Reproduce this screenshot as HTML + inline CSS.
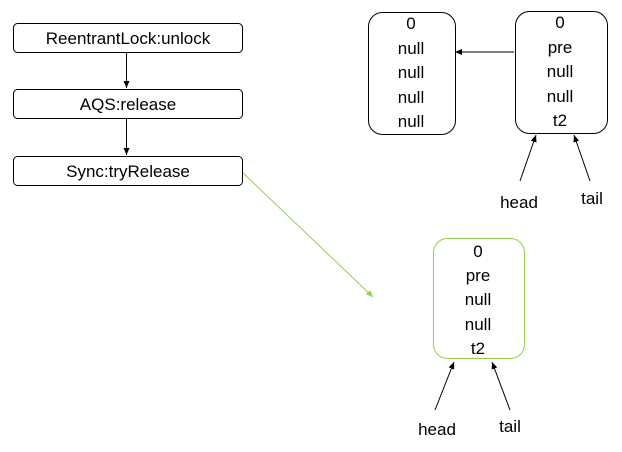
<!DOCTYPE html>
<html><head><style>
body{margin:0;width:622px;height:447px;background:#fff;overflow:hidden}
svg text{font-family:"Liberation Sans",sans-serif;font-size:17px;fill:#000;text-anchor:middle}
</style></head><body>
<svg width="622" height="447" viewBox="0 0 622 447">
<defs>
<marker id="a" markerWidth="8" markerHeight="8" refX="7" refY="4" orient="auto" markerUnits="userSpaceOnUse"><path d="M0,1 L7,4 L0,7 Z" fill="#000"/></marker>
<marker id="g" markerWidth="8" markerHeight="8" refX="7" refY="4" orient="auto" markerUnits="userSpaceOnUse"><path d="M0,1 L7,4 L0,7 Z" fill="#92d050"/></marker>
</defs>
<g fill="none" stroke="#000" stroke-width="1">
<rect x="13.5" y="23.5" width="229" height="29" rx="4"/>
<rect x="13.5" y="89.5" width="229" height="29" rx="4"/>
<rect x="13.5" y="156.5" width="229" height="29" rx="4"/>
<line x1="126.5" y1="53" x2="126.5" y2="88" marker-end="url(#a)"/>
<line x1="126.5" y1="119" x2="126.5" y2="155" marker-end="url(#a)"/>
<rect x="368.5" y="12.5" width="87" height="122" rx="14"/>
<rect x="515.5" y="11.5" width="92" height="122" rx="14"/>
<line x1="514" y1="52" x2="455" y2="52" marker-end="url(#a)"/>
<line x1="520" y1="181" x2="536" y2="135" marker-end="url(#a)"/>
<line x1="590" y1="181" x2="574" y2="135" marker-end="url(#a)"/>
<line x1="435" y1="410" x2="454" y2="362" marker-end="url(#a)"/>
<line x1="510" y1="410" x2="492" y2="362" marker-end="url(#a)"/>
</g>
<rect x="433.5" y="238.5" width="91" height="120" rx="14" fill="none" stroke="#92d050"/>
<line x1="243" y1="173" x2="373" y2="297" stroke="#92d050" marker-end="url(#g)"/>
<text x="128" y="44">ReentrantLock:unlock</text>
<text x="128" y="110">AQS:release</text>
<text x="128" y="177">Sync:tryRelease</text>
<text x="411" y="29">0</text><text x="411" y="54">null</text><text x="411" y="78">null</text><text x="411" y="103">null</text><text x="411" y="127">null</text>
<text x="560" y="28">0</text><text x="560" y="53">pre</text><text x="560" y="77">null</text><text x="560" y="102">null</text><text x="560" y="126">t2</text>
<text x="519" y="208">head</text><text x="592" y="204">tail</text>
<text x="478" y="257">0</text><text x="478" y="281">pre</text><text x="478" y="305">null</text><text x="478" y="330">null</text><text x="478" y="354">t2</text>
<text x="437" y="435">head</text><text x="510" y="432">tail</text>
</svg>
</body></html>
